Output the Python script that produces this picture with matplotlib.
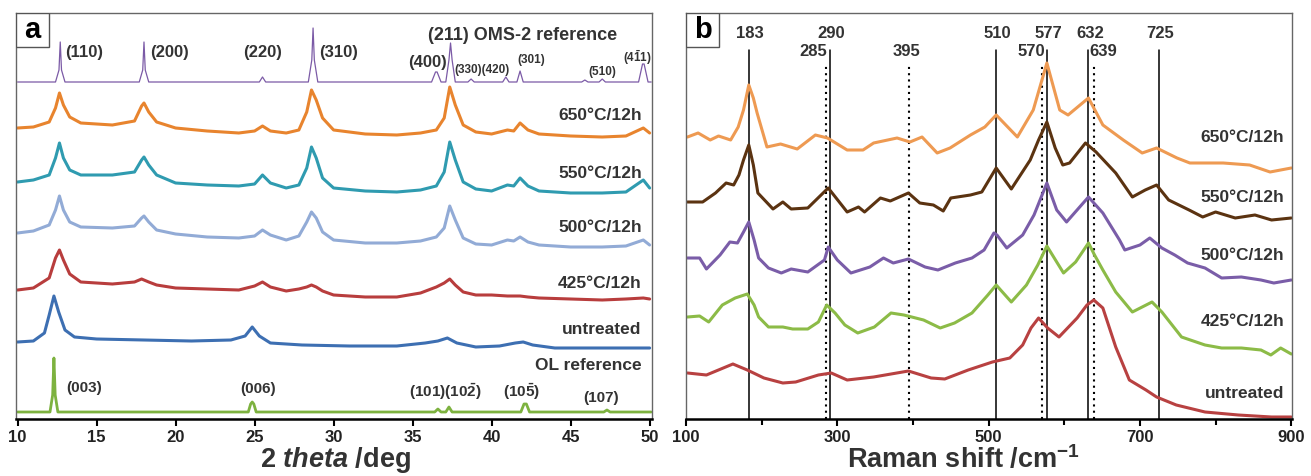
import matplotlib.pyplot as plt
from matplotlib.patches import Rectangle

plt.rcParams['font.family'] = ['Liberation Sans', 'DejaVu Sans']
plt.rcParams['font.weight'] = 'bold'
plt.rcParams['mathtext.fontset'] = 'custom'
plt.rcParams['mathtext.rm'] = 'Liberation Sans:bold'
plt.rcParams['mathtext.bf'] = 'Liberation Sans:bold'
plt.rcParams['mathtext.it'] = 'Liberation Sans:bold:italic'
plt.rcParams['lines.solid_joinstyle'] = 'round'
plt.rcParams['lines.solid_capstyle'] = 'round'

# ---- XRD (panel a) ----
xrd_x = [10, 11, 12.0, 12.4, 12.65, 12.9, 13.3, 14, 16, 17.4,
         17.85, 18.0, 18.3, 18.8, 20, 22, 24, 25, 25.5, 26,
         27, 27.8, 28.3, 28.6, 28.9, 29.3, 30, 32, 34, 35.5,
         36.5, 37.0, 37.35, 37.7, 38.2, 39, 40, 41.0, 41.4, 41.8,
         42.3, 43, 45, 47, 48.5, 49.6, 50]
xrd_650 = [128, 127, 122, 108, 93, 105, 117, 123, 125, 121,
           106, 103, 112, 122, 128, 131, 133, 131, 126, 131,
           133, 130, 112, 90, 100, 118, 130, 134, 135, 133,
           130, 118, 87, 105, 125, 132, 134, 130, 131, 123,
           130, 134, 136, 137, 136, 128, 133]
xrd_550 = [182, 180, 175, 158, 143, 158, 170, 175, 175, 172,
           160, 157, 165, 175, 183, 185, 186, 184, 175, 183,
           188, 185, 168, 147, 158, 178, 188, 191, 192, 190,
           186, 172, 142, 160, 182, 189, 191, 185, 186, 178,
           186, 191, 193, 193, 192, 180, 188]
xrd_500 = [233, 231, 225, 210, 196, 210, 222, 227, 228, 226,
           218, 216, 222, 230, 234, 237, 238, 236, 230, 235,
           240, 236, 222, 212, 218, 232, 240, 243, 243, 241,
           237, 228, 206, 220, 238, 244, 245, 240, 241, 237,
           242, 245, 247, 247, 246, 240, 245]
xrd_425 = [290, 288, 278, 258, 250, 260, 274, 282, 284, 282,
           279, 280, 282, 285, 288, 289, 290, 286, 282, 287,
           291, 289, 287, 285, 287, 291, 295, 297, 297, 293,
           287, 283, 279, 285, 292, 295, 295, 296, 296, 296,
           297, 298, 299, 300, 299, 298, 299]

unt_x = [10, 11, 11.7, 12.0, 12.3, 12.6, 13.0, 13.6, 15, 18,
         21, 23.5, 24.4, 24.85, 25.3, 26, 28, 31, 34, 35.8,
         36.6, 37.2, 37.8, 39, 40.5, 41.5, 42.0, 42.6, 44, 47, 50]
unt_y = [342, 341, 333, 315, 296, 312, 330, 337, 339, 340,
         341, 340, 336, 327, 336, 343, 345, 346, 346, 343,
         341, 338, 343, 347, 346, 343, 342, 345, 348, 348, 348]

oms_x = [10, 12.4, 12.62, 12.7, 12.78, 13.0, 17.7, 17.92, 18.0, 18.08,
         18.3, 25.3, 25.5, 25.7, 28.4, 28.62, 28.7, 28.78, 29.0, 36.2,
         36.45, 36.55, 36.8, 37.1, 37.3, 37.4, 37.5, 37.7, 38.5, 38.7,
         38.9, 40.7, 40.9, 41.1, 41.6, 41.8, 42.0, 45.7, 45.9, 46.1,
         46.8, 47.0, 47.2, 49.3, 49.55, 49.65, 49.9, 50.1]
oms_y = [82, 82, 70, 42, 70, 82, 82, 70, 42, 70,
         82, 82, 77, 82, 82, 60, 28, 60, 82, 82,
         72, 72, 82, 82, 60, 43, 60, 82, 82, 79,
         82, 82, 77, 82, 82, 71, 82, 82, 80, 82,
         82, 79, 82, 82, 64, 64, 82, 82]

ol_x = [10, 12.05, 12.22, 12.3, 12.38, 12.55, 24.6, 24.75, 24.85, 24.95,
        25.1, 36.4, 36.6, 36.8, 37.1, 37.3, 37.5, 41.85, 42.05, 42.2,
        42.4, 47.1, 47.3, 47.5, 50.1]
ol_y = [412, 412, 395, 358, 395, 412, 412, 404, 402, 404,
        412, 412, 409, 412, 412, 407, 412, 412, 404, 404,
        412, 412, 410, 412, 412]

# ---- Raman (panel b) ----
r650_x = [102, 116, 132, 143, 159, 169, 176, 183, 189, 194,
          207, 225, 247, 271, 287, 313, 334, 348, 379, 396,
          412, 432, 449, 476, 495, 510, 538, 559, 577, 594,
          605, 632, 651, 678, 703, 722, 749, 766, 810, 845, 872, 900]
r650_y = [137, 133, 140, 136, 140, 127, 110, 85, 98, 113,
          147, 144, 149, 135, 138, 150, 150, 143, 138, 142,
          137, 153, 148, 135, 127, 115, 137, 110, 63, 110,
          115, 98, 125, 140, 153, 148, 158, 163, 163, 165, 172, 168]

r550_x = [102, 122, 139, 153, 163, 170, 176, 183, 189, 195,
          215, 228, 239, 261, 288, 313, 328, 336, 357, 370,
          394, 409, 427, 440, 450, 476, 491, 510, 530, 555,
          566, 577, 588, 598, 607, 628, 642, 668, 690, 707,
          722, 738, 765, 783, 800, 826, 852, 874, 900]
r550_y = [202, 202, 193, 183, 185, 175, 160, 145, 165, 193,
          209, 202, 209, 208, 188, 212, 207, 212, 198, 201,
          193, 203, 205, 211, 198, 195, 192, 168, 189, 160,
          140, 122, 148, 165, 163, 143, 152, 173, 197, 190,
          185, 200, 210, 217, 212, 218, 215, 220, 218]

r500_x = [102, 118, 127, 145, 158, 168, 176, 183, 190, 196,
          209, 226, 239, 261, 283, 288, 300, 318, 343, 361,
          374, 394, 416, 433, 456, 478, 494, 507, 511, 524,
          545, 560, 577, 590, 603, 632, 651, 673, 680, 700,
          713, 729, 746, 763, 786, 808, 834, 860, 877, 900]
r500_y = [258, 258, 269, 255, 242, 243, 232, 222, 240, 258,
          268, 273, 269, 272, 260, 247, 260, 273, 267, 258,
          263, 259, 267, 270, 263, 258, 250, 233, 235, 248,
          235, 215, 183, 210, 222, 197, 213, 240, 250, 245,
          238, 248, 255, 263, 268, 278, 277, 280, 283, 280]

r425_x = [102, 118, 130, 148, 165, 181, 190, 196, 209, 228,
          241, 261, 275, 286, 297, 310, 327, 349, 371, 388,
          414, 436, 455, 478, 499, 510, 530, 550, 565, 577,
          590, 599, 615, 632, 640, 651, 668, 690, 716, 729,
          755, 786, 808, 834, 860, 873, 886, 900]
r425_y = [317, 316, 322, 305, 298, 294, 305, 317, 327, 327,
          329, 329, 322, 305, 313, 325, 333, 327, 313, 315,
          320, 328, 323, 313, 295, 285, 302, 285, 265, 246,
          262, 273, 262, 243, 255, 270, 292, 312, 302, 312,
          337, 345, 348, 348, 350, 355, 348, 354]

runt_x = [102, 127, 162, 181, 203, 228, 245, 275, 292, 313,
          348, 394, 424, 442, 473, 505, 528, 545, 556, 566,
          578, 593, 617, 630, 639, 651, 668, 686, 708, 722,
          748, 786, 830, 874, 900]
runt_y = [373, 375, 364, 370, 378, 383, 382, 375, 373, 380,
          377, 371, 378, 379, 370, 362, 358, 345, 328, 318,
          328, 337, 318, 305, 300, 308, 347, 380, 390, 397,
          405, 412, 415, 417, 417]

solid_bands = [183, 290, 510, 577, 632, 725]
dotted_bands = [285, 395, 570, 639]

txt = '#333333'
W, H = 1311, 476

fig = plt.figure(figsize=(W / 100, H / 100), dpi=100)
ax_a = fig.add_axes([16 / W, 1 - 419 / H, 636 / W, 406 / H])
ax_b = fig.add_axes([686 / W, 1 - 419 / H, 606 / W, 406 / H])


def style_frame(ax, letter):
    for s in ['top', 'left', 'right']:
        ax.spines[s].set_color('#666666')
        ax.spines[s].set_linewidth(1.0)
    ax.spines['bottom'].set_color('black')
    ax.spines['bottom'].set_linewidth(1.8)
    ax.set_yticks([])
    ax.set_ylim(419, 13)
    ax.tick_params(axis='x', which='both', direction='out', color='black',
                   width=1.5, labelsize=12, labelcolor='#222222', pad=3)
    ax.tick_params(axis='x', which='major', length=5)
    ax.tick_params(axis='x', which='minor', length=4)
    for lab in ax.get_xticklabels():
        lab.set_fontweight('bold')
    ax.add_patch(Rectangle((0, 1 - 34 / 406), 33 / ax.bbox.width, 34 / 406,
                           transform=ax.transAxes, facecolor='white',
                           edgecolor='#555555', lw=1.0, zorder=5))
    ax.text(16.5 / ax.bbox.width, 1 - 17 / 406, letter, transform=ax.transAxes,
            ha='center', va='center', fontsize=21, fontweight='bold', color='black', zorder=6)


# ---------- panel a ----------
ax_a.plot(oms_x, oms_y, color='#7B5AA6', lw=0.9)
ax_a.plot(xrd_x, xrd_650, color='#E8842E', lw=2.2)
ax_a.plot(xrd_x, xrd_550, color='#2F9BB0', lw=2.2)
ax_a.plot(xrd_x, xrd_500, color='#92ABD6', lw=2.2)
ax_a.plot(xrd_x, xrd_425, color='#B83D3D', lw=2.2)
ax_a.plot(unt_x, unt_y, color='#3D6FB2', lw=2.2)
ax_a.plot(ol_x, ol_y, color='#7DB23F', lw=2.0)
ax_a.set_xlim(9.9, 50.15)
ax_a.set_xticks(range(10, 51, 5))
style_frame(ax_a, 'a')
ax_a.set_xlabel(r'2 $\mathit{theta}$ /deg', fontsize=19.5, fontweight='bold',
                color=txt, labelpad=0, x=0.502)

big = dict(fontsize=12, fontweight='bold', color=txt, va='center')
small = dict(fontsize=8.5, fontweight='bold', color=txt, va='center')
ax_a.text(13.0, 52, '(110)', ha='left', **big)
ax_a.text(18.4, 52, '(200)', ha='left', **big)
ax_a.text(25.5, 52, '(220)', ha='center', **big)
ax_a.text(29.1, 52, '(310)', ha='left', **big)
ax_a.text(37.15, 63, '(400)', ha='right', **big)
ax_a.text(35.95, 35, '(211) OMS-2 reference', ha='left', fontsize=13,
          fontweight='bold', color=txt, va='center')
ax_a.text(37.65, 70, '(330)(420)', ha='left', **small)
ax_a.text(41.6, 60, '(301)', ha='left', **small)
ax_a.text(46.1, 72, '(510)', ha='left', **small)
ax_a.text(48.3, 58, r'(4$\bar{1}$1)', ha='left', **small)

temps = ['650°C/12h', '550°C/12h', '500°C/12h', '425°C/12h', 'untreated', 'OL reference']
temp_y_a = [115, 173, 228, 283, 329, 365]
for t, yy in zip(temps, temp_y_a):
    ax_a.text(49.5, yy, t, ha='right', fontsize=12.5, fontweight='bold', color=txt, va='center')

ol = dict(fontsize=11, fontweight='bold', color=txt, va='center')
ax_a.text(13.1, 388, '(003)', ha='left', **ol)
ax_a.text(25.2, 389, '(006)', ha='center', **ol)
ax_a.text(34.8, 392, r'(101)(10$\bar{2}$)', ha='left', **ol)
ax_a.text(40.7, 392, r'(10$\bar{5}$)', ha='left', **ol)
ax_a.text(45.8, 398, '(107)', ha='left', **ol)

# ---------- panel b ----------
for b in solid_bands:
    ax_b.plot([b, b], [419, 50], color='black', lw=1.1, zorder=1)
for b in dotted_bands:
    ax_b.plot([b, b], [419, 65], color='black', lw=1.5, ls=(0, (1, 2)), zorder=1)

ax_b.plot(r650_x, r650_y, color='#EE9A52', lw=2.2, zorder=2)
ax_b.plot(r550_x, r550_y, color='#5B3311', lw=2.2, zorder=2)
ax_b.plot(r500_x, r500_y, color='#7A5DA8', lw=2.2, zorder=2)
ax_b.plot(r425_x, r425_y, color='#8CBB47', lw=2.2, zorder=2)
ax_b.plot(runt_x, runt_y, color='#B84141', lw=2.2, zorder=2)
ax_b.set_xlim(100, 901)
ax_b.set_xticks([100, 300, 500, 700, 900])
ax_b.set_xticks([200, 400, 600, 800], minor=True)
style_frame(ax_b, 'b')
ax_b.set_xlabel(r'Raman shift /cm$^{-1}$', fontsize=19.5, fontweight='bold',
                color=txt, labelpad=0, x=0.458)

num = dict(fontsize=12, fontweight='bold', color=txt, va='center')
for b in solid_bands:
    ax_b.text(b + 2, 33, str(b), ha='center', **num)
ax_b.text(287, 52, '285', ha='right', **num)
ax_b.text(392, 52, '395', ha='center', **num)
ax_b.text(575, 52, '570', ha='right', **num)
ax_b.text(633, 52, '639', ha='left', **num)

temp_y_b = [137, 197, 255, 322, 393]
for t, yy in zip(temps[:5], temp_y_b):
    ax_b.text(891, yy, t, ha='right', fontsize=12.5, fontweight='bold', color=txt, va='center')

fig.savefig('out.png', dpi=100)
